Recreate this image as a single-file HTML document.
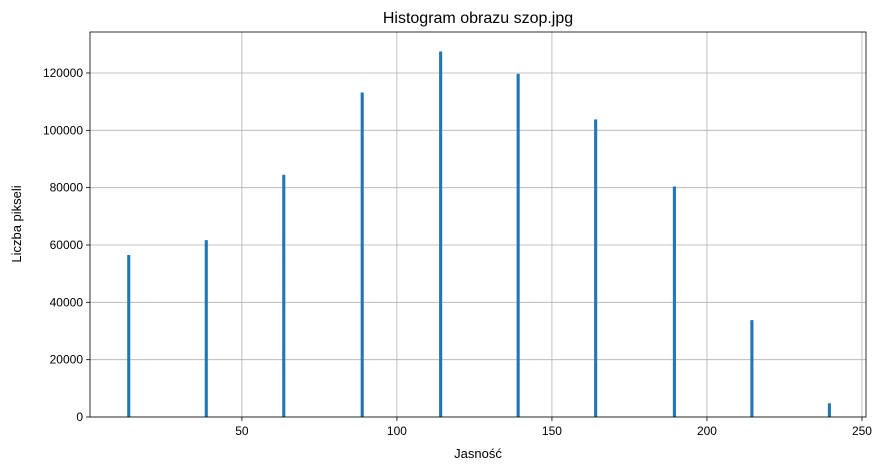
<!DOCTYPE html>
<html><head><meta charset="utf-8"><style>
html,body{margin:0;padding:0;background:#fff;}
svg{display:block;font-family:"Liberation Sans","DejaVu Sans",sans-serif;}
</style></head><body>
<svg id="chart" width="883" height="471">
<text x="478" y="23" text-anchor="middle" font-size="16" fill="#000">Histogram obrazu szop.jpg</text>
<text x="478" y="458" text-anchor="middle" font-size="13" fill="#000">Jasność</text>
<text x="21" y="224" text-anchor="middle" font-size="13" fill="#000" transform="rotate(-90 21 224)">Liczba pikseli</text>
<g id="grid"></g><g id="bars"></g><g id="axes"></g>
</svg>
<script>
const categories = [13, 38, 63, 88.3, 113.6, 138.6, 163.6, 189, 214, 239];
const counts = [56500, 61700, 84500, 113200, 127500, 119700, 103800, 80400, 33800, 4800];
const xTicks = [50, 100, 150, 200, 250];
const yTicks = [0, 20000, 40000, 60000, 80000, 100000, 120000];

const L=90, R=866, T=32, B=417;
const xMin=1.0, xMax=251.3, yMax=134300;
const xs=v=>L+(v-xMin)/(xMax-xMin)*(R-L);
const ys=v=>B-v/yMax*(B-T);
const NS="http://www.w3.org/2000/svg";
function mk(tag,attrs,parent){const e=document.createElementNS(NS,tag);for(const k in attrs)e.setAttribute(k,attrs[k]);parent.appendChild(e);return e;}
const grid=document.getElementById('grid'),bars=document.getElementById('bars'),axes=document.getElementById('axes');
xTicks.forEach(t=>{const x=xs(t);
 const g=mk('line',{x1:x,x2:x,y1:T,y2:B,stroke:'#b0b0b0','stroke-width':0.8},grid);
 
 
 mk('line',{x1:x,x2:x,y1:B,y2:B+4,stroke:'#000','stroke-width':0.8},axes);
 const tx=mk('text',{x:x,y:B+18,'text-anchor':'middle','font-size':12},axes);tx.textContent=t;
 
 
});
yTicks.forEach(t=>{const y=ys(t);
 const g=mk('line',{x1:L,x2:R,y1:y,y2:y,stroke:'#b0b0b0','stroke-width':0.8},grid);
 
 
 mk('line',{x1:L-4,x2:L,y1:y,y2:y,stroke:'#000','stroke-width':0.8},axes);
 const tx=mk('text',{x:L-7,y:y+4,'text-anchor':'end','font-size':12},axes);tx.textContent=t;
 
 
});
categories.forEach((c,i)=>{const x0=xs(c),x1=xs(c+1);
 const r=mk('rect',{x:x0,y:ys(counts[i]),width:x1-x0,height:B-ys(counts[i]),fill:'#1f77b4'},bars);
 
 
});
const f=mk('rect',{x:L,y:T,width:R-L,height:B-T,fill:'none',stroke:'#000','stroke-width':0.8},axes);


</script>
</body></html>
